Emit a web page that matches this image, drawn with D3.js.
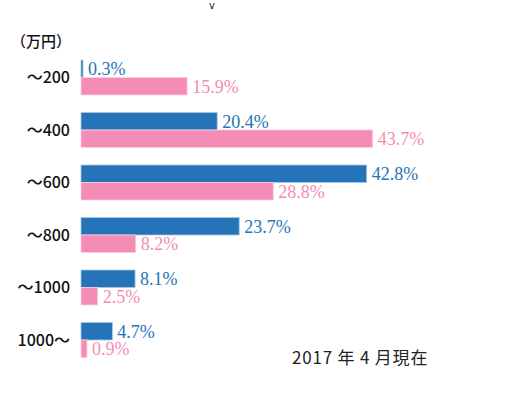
<!DOCTYPE html>
<html lang="ja">
<head>
    <meta charset="UTF-8">
    <title>年収分布</title>
    <script src="https://d3js.org/d3.v7.min.js"></script>
    <style>
        body {
            margin: 0;
            padding: 0;
            background: #fff;
        }
        svg {
            display: block;
        }
        .cat {
            font-family: "Noto Sans CJK JP", "Noto Sans", sans-serif;
            font-size: 16px;
            font-weight: 500;
            fill: #111;
        }
        .val {
            font-family: "Liberation Serif", "DejaVu Serif", serif;
            font-size: 18px;
        }
        .note {
            font-family: "Noto Sans CJK JP", "Noto Sans", sans-serif;
            font-size: 17px;
            letter-spacing: 0.8px;
            fill: #222;
        }
    </style>
</head>
<body>
    <svg id="chart"></svg>
    <script>
        // income brackets (万円)
        const categories = ["～200", "～400", "～600", "～800", "～1000", "1000～"];
        // two series, percent
        const blueValues = [0.3, 20.4, 42.8, 23.7, 8.1, 4.7];
        const pinkValues = [15.9, 43.7, 28.8, 8.2, 2.5, 0.9];
        const seriesKeys = ["blue", "pink"];

        const width = 510, height = 396;
        const svg = d3.select("#chart").attr("width", width).attr("height", height);

        const colors = { blue: "#2574b8", pink: "#f48cb5" };

        const x = d3.scaleLinear().domain([0, 50]).range([81, 81 + 333.75]);
        const y = d3.scaleBand().domain(categories).range([60, 357.5]).paddingInner(1 / 3).paddingOuter(0);
        const ySub = d3.scaleBand().domain(seriesKeys).range([0, y.bandwidth()]);

        const rows = categories.map((c, i) => ({ cat: c, blue: blueValues[i], pink: pinkValues[i] }));

        // little glyph at the very top
        svg.append("text")
            .attr("x", 212).attr("y", 9)
            .attr("text-anchor", "middle")
            .style("font-family", "DejaVu Sans")
            .style("font-size", "10px")
            .attr("fill", "#222")
            .text("v");

        // unit label
        svg.append("text")
            .attr("class", "cat")
            .attr("x", 71).attr("y", 47)
            .attr("text-anchor", "end")
            .style("font-size", "15px")
            .text("（万円）");

        const groups = svg.selectAll(".grp")
            .data(rows)
            .enter().append("g")
            .attr("class", "grp")
            .attr("transform", d => `translate(0,${y(d.cat)})`);

        groups.append("text")
            .attr("class", "cat")
            .attr("x", 70)
            .attr("y", y.bandwidth() / 2)
            .attr("dy", "0.36em")
            .attr("text-anchor", "end")
            .text(d => d.cat);

        seriesKeys.forEach(k => {
            groups.append("rect")
                .attr("x", x(0))
                .attr("y", ySub(k))
                .attr("width", d => Math.max(x(d[k]) - x(0), 1.5))
                .attr("height", ySub.bandwidth())
                .attr("fill", colors[k])
                .attr("stroke", k === "blue" ? "#a9c7e4" : "#fbd0e1")
                .attr("stroke-width", 0.8);

            groups.append("text")
                .attr("class", "val")
                .attr("x", d => Math.max(x(d[k]), x(0) + 1.5) + 5)
                .attr("y", ySub(k) + ySub.bandwidth() / 2)
                .attr("dy", "0.36em")
                .attr("fill", colors[k])
                .text(d => d[k].toFixed(1) + "%");
        });

        svg.append("text")
            .attr("class", "note")
            .attr("x", 292).attr("y", 364)
            .text("2017 年 4 月現在");
    </script>
</body>
</html>
